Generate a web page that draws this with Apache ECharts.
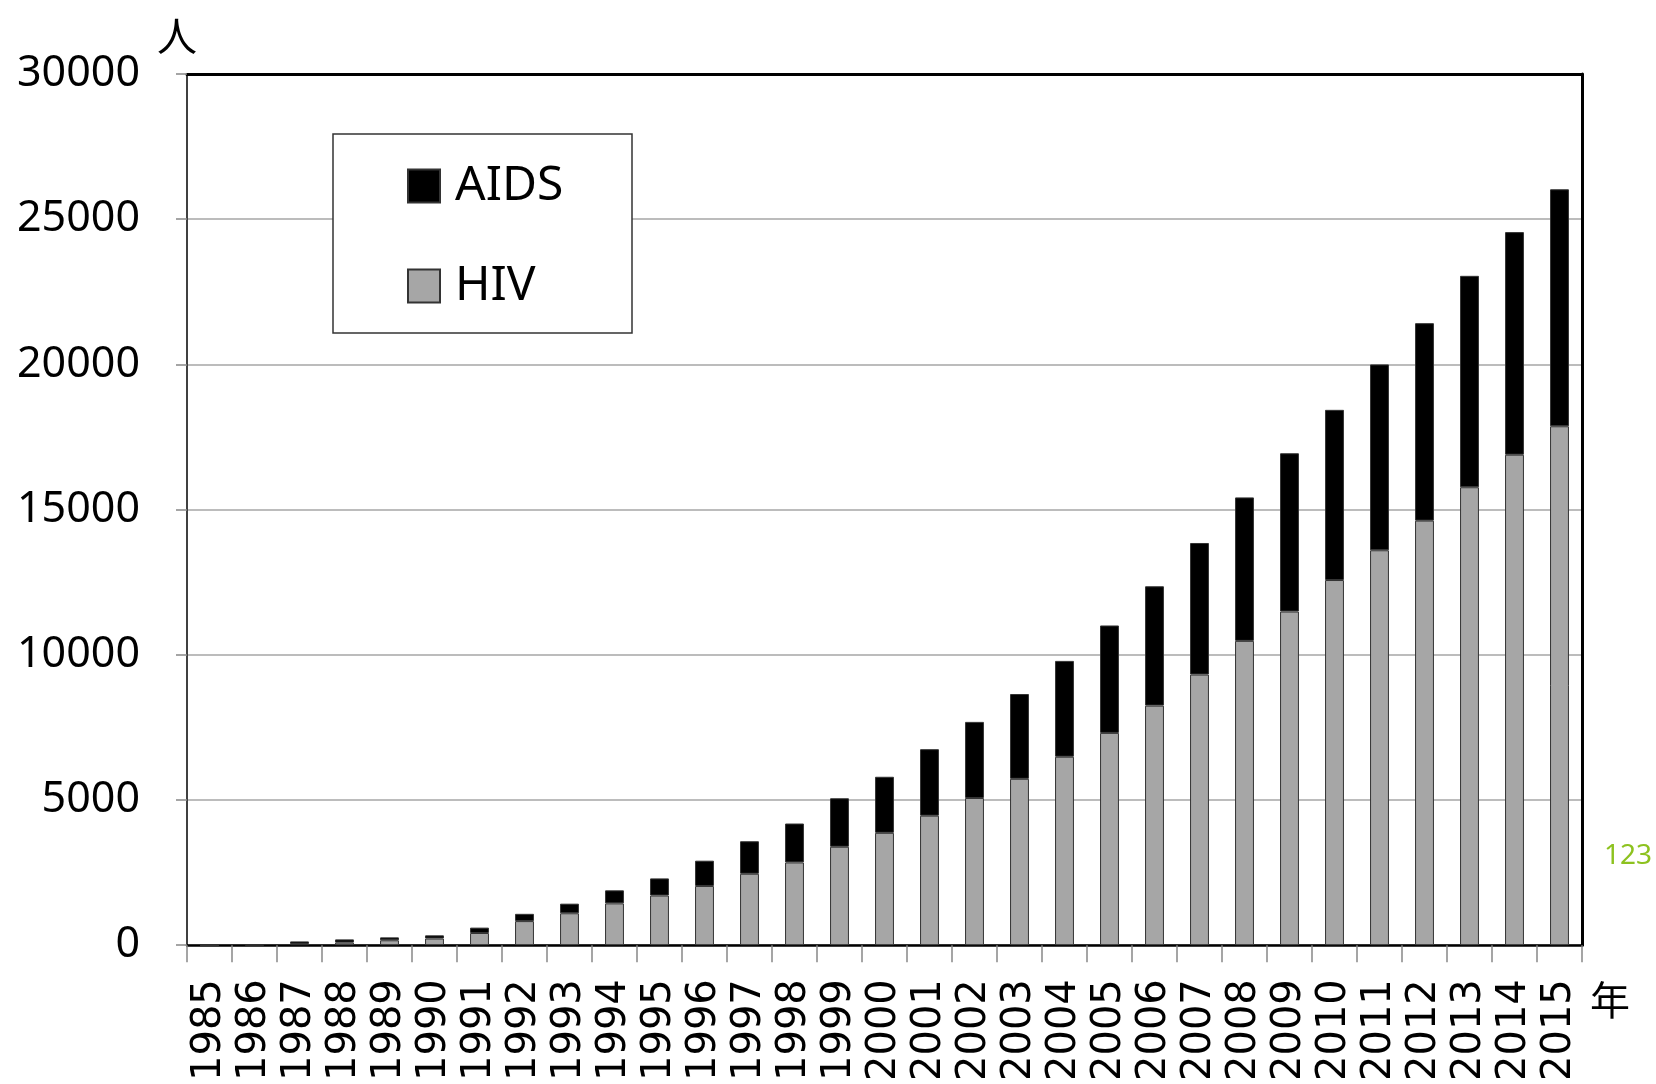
<!DOCTYPE html>
<html>
<head>
<meta charset="utf-8">
<script src="https://cdn.jsdelivr.net/npm/echarts@6/dist/echarts.min.js"></script>
<style>
  html, body { margin: 0; padding: 0; background: #fff; }
  #main { width: 1656px; height: 1084px; }
</style>
</head>
<body>
<div id="main"></div>
<script>
var years = ['1985','1986','1987','1988','1989','1990','1991','1992','1993','1994','1995',
  '1996','1997','1998','1999','2000','2001','2002','2003','2004','2005','2006','2007',
  '2008','2009','2010','2011','2012','2013','2014','2015'];
var hivValues = [0, 10, 40, 90, 170, 230, 420, 830, 1100, 1440, 1710,
  2040, 2460, 2850, 3390, 3870, 4460, 5070, 5730, 6490, 7310, 8250, 9320,
  10480, 11490, 12575, 13600, 14620, 15770, 16890, 17870];
var aidsValues = [10, 20, 90, 110, 100, 110, 185, 250, 330, 450, 590,
  870, 1120, 1340, 1670, 1930, 2290, 2620, 2920, 3300, 3700, 4110, 4530,
  4940, 5450, 5860, 6400, 6800, 7280, 7665, 8160];

var chartDom = document.getElementById('main');
var chart = echarts.init(chartDom);
var option;

option = {
    animation: false,
    backgroundColor: '#fff',
    grid: {
        left: 187,
        right: 74,
        top: 74,
        bottom: 136
    },
    legend: {
        data: ['AIDS', 'HIV'],
        orient: 'vertical',
        left: 407,
        top: 162,
        padding: 0,
        itemWidth: 32,
        itemHeight: 33,
        itemGap: 52,
        icon: 'rect',
        z: 20,
        textStyle: {
            fontFamily: 'Noto Sans',
            fontSize: 48,
            lineHeight: 33,
            color: '#000',
            padding: [0, 0, 0, 10]
        }
    },
    graphic: [
        {
            type: 'rect',
            z: 10,
            shape: { x: 333, y: 134, width: 299, height: 199 },
            style: { fill: '#fff', stroke: '#333', lineWidth: 1.5 }
        },
        {
            type: 'text',
            left: 157,
            top: 16,
            style: { text: '人', font: '40px "Noto Sans CJK JP"', fill: '#000' }
        },
        {
            type: 'text',
            left: 1590,
            top: 980,
            style: { text: '年', font: '40px "Noto Sans CJK JP"', fill: '#000' }
        },
        {
            type: 'text',
            left: 1604,
            top: 842,
            style: { text: '123', font: '28px "Noto Sans"', fill: '#8dc21f' }
        }
    ],
    xAxis: [
        {
            type: 'category',
            data: years,
            boundaryGap: true,
            axisLine: { lineStyle: { color: '#000', width: 2.5 } },
            axisTick: { show: true, length: 17, lineStyle: { color: '#888', width: 1.5 } },
            axisLabel: {
                rotate: 90,
                margin: 34,
                interval: 0,
                fontFamily: 'DejaVu Sans',
                fontSize: 40,
                color: '#000'
            }
        },
        {
            type: 'category',
            data: years,
            position: 'top',
            axisLine: { onZero: false, lineStyle: { color: '#000', width: 3 } },
            axisTick: { show: false },
            axisLabel: { show: false }
        }
    ],
    yAxis: [
        {
            type: 'value',
            min: 0,
            max: 30000,
            interval: 5000,
            axisLine: { show: true, lineStyle: { color: '#404040', width: 2 } },
            axisTick: { show: true, length: 11, lineStyle: { color: '#888', width: 1.5 } },
            axisLabel: {
                margin: 47,
                fontFamily: 'Noto Sans',
                fontSize: 43,
                color: '#000',
                formatter: function (v) { return String(v); }
            },
            splitLine: { lineStyle: { color: '#a6a6a6', width: 1.5 } }
        },
        {
            type: 'value',
            min: 0,
            max: 30000,
            interval: 5000,
            position: 'right',
            axisLine: { show: true, onZero: false, lineStyle: { color: '#000', width: 3 } },
            axisTick: { show: false },
            axisLabel: { show: false },
            splitLine: { show: false }
        }
    ],
    series: [
        {
            name: 'HIV',
            type: 'bar',
            stack: 'total',
            barWidth: '42%',
            data: hivValues,
            itemStyle: { color: '#a6a6a6', borderColor: '#333', borderWidth: 1 }
        },
        {
            name: 'AIDS',
            type: 'bar',
            stack: 'total',
            barWidth: '42%',
            data: aidsValues,
            itemStyle: { color: '#000', borderColor: '#333', borderWidth: 1 }
        }
    ]
};

chart.setOption(option);
</script>
</body>
</html>
